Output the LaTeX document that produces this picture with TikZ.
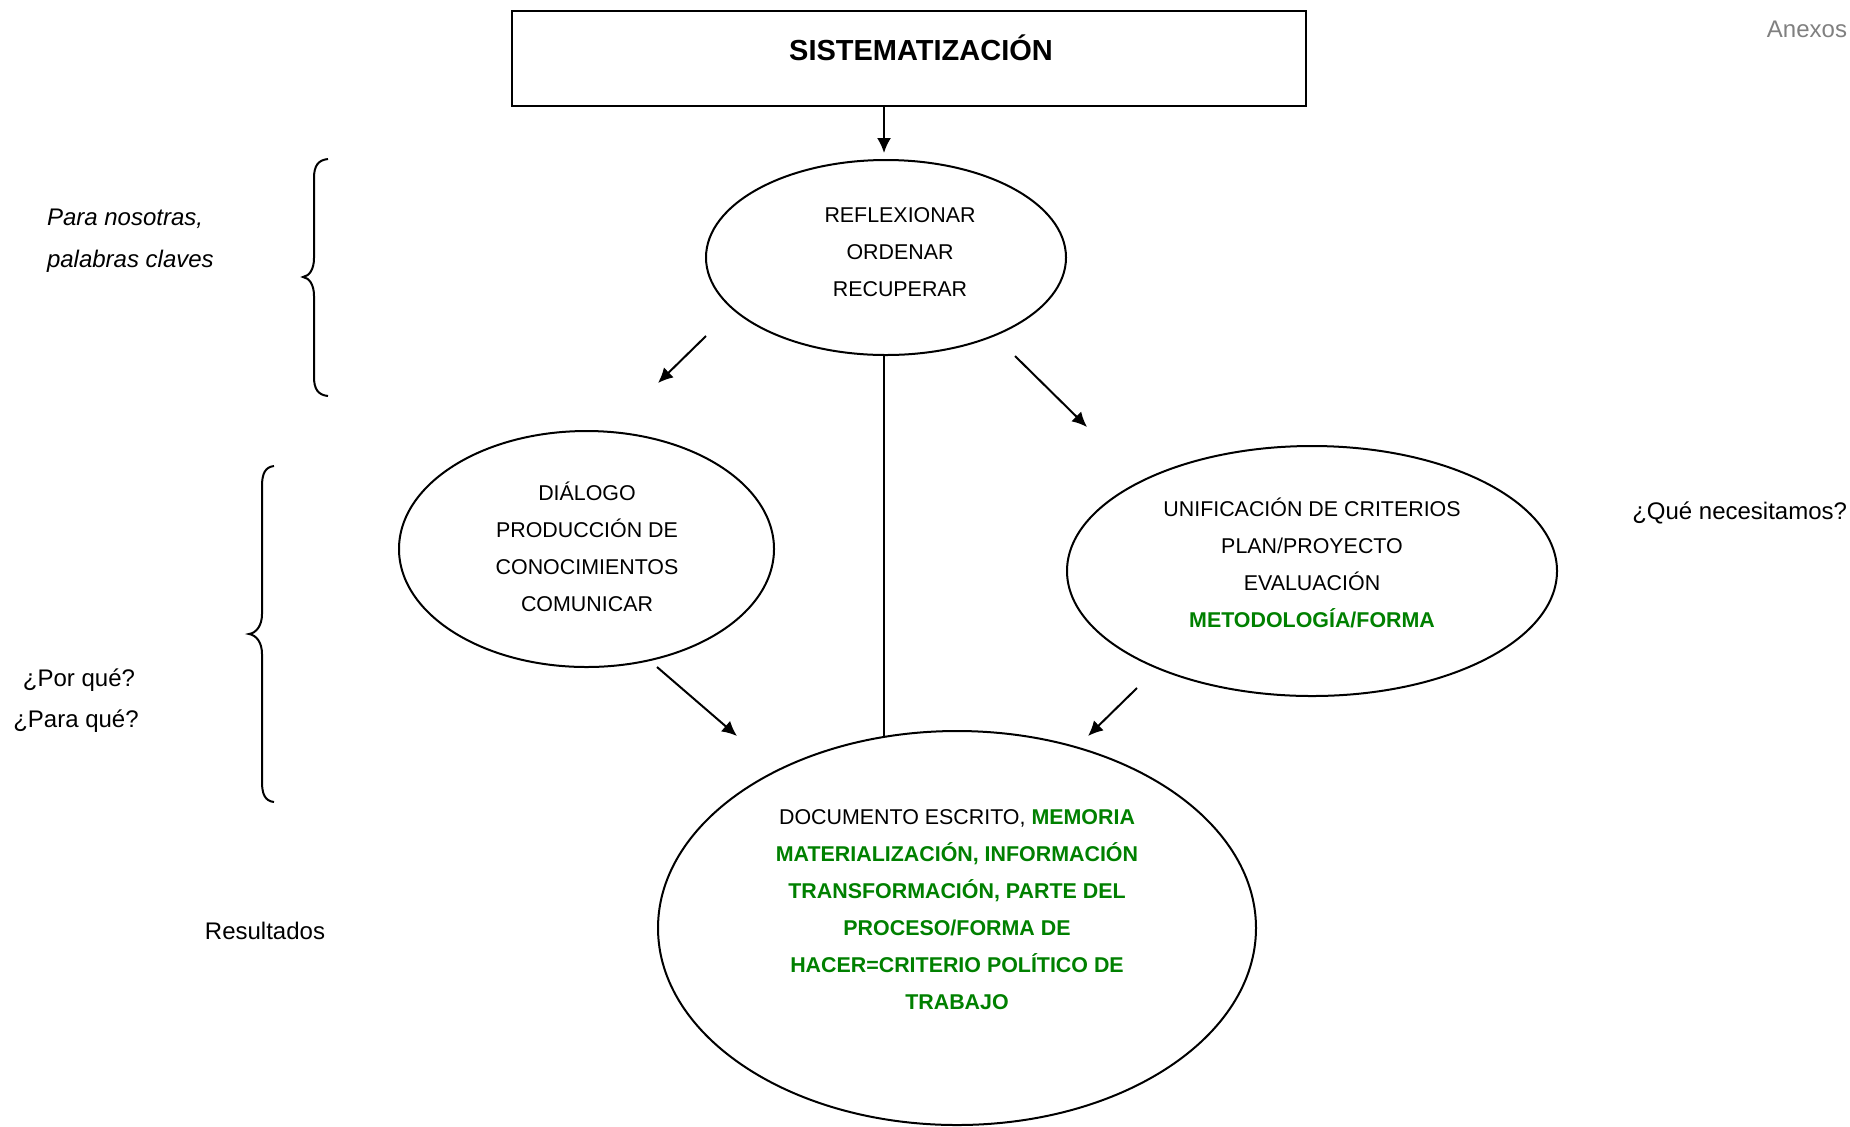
\documentclass[tikz,border=0pt]{standalone}
\usepackage{fontspec}
\setmainfont{Liberation Sans}
\usetikzlibrary{shapes.geometric,arrows.meta}
\definecolor{dgreen}{RGB}{0,128,0}
\definecolor{lgray}{RGB}{128,128,128}
\begin{document}
\begin{tikzpicture}[x=0.5pt,y=-0.5pt,
  line width=1pt,
  every node/.style={inner sep=0pt,outer sep=0pt},
  oval/.style={draw,ellipse,line width=1pt},
  intext/.style={font=\fontsize{10.7pt}{18.5pt}\selectfont,align=center},
  side/.style={font=\fontsize{12pt}{14pt}\selectfont},
  arr/.style={-{Latex[length=7.5pt,width=7pt]}},
  grn/.style={font=\bfseries}
]
\useasboundingbox (0,0) rectangle (1850,1126);

% top box
\node[draw,line width=1pt,minimum width=794*0.5pt,minimum height=95*0.5pt] (box) at (909,58.5) {};
\node[font=\fontsize{14.5pt}{16pt}\selectfont\bfseries] (title) at (921,48) {SISTEMATIZACIÓN};

% ellipses
\node[oval,minimum width=360*0.5pt,minimum height=195*0.5pt] (e1) at (886,257.5) {};
\node[intext] (t1) at (900,252.5) {REFLEXIONAR\\ORDENAR\\RECUPERAR};

\node[oval,minimum width=375*0.5pt,minimum height=236*0.5pt] (e2) at (586.5,549) {};
\node[intext] (t2) at (587,547) {DIÁLOGO\\PRODUCCIÓN DE\\CONOCIMIENTOS\\COMUNICAR};

\node[oval,minimum width=490*0.5pt,minimum height=250*0.5pt] (e3) at (1312,571) {};
\node[intext] (t3) at (1312,562.5) {UNIFICACIÓN DE CRITERIOS\\PLAN/PROYECTO\\EVALUACIÓN\\\textcolor{dgreen}{\bfseries METODOLOGÍA/FORMA}};

\node[oval,minimum width=598*0.5pt,minimum height=394*0.5pt] (e4) at (957,928) {};
\node[intext] (t4) at (957,909.5) {DOCUMENTO ESCRITO, \textcolor{dgreen}{\bfseries MEMORIA}\\
\color{dgreen}\bfseries MATERIALIZACIÓN, INFORMACIÓN\\
\color{dgreen}\bfseries TRANSFORMACIÓN, PARTE DEL\\
\color{dgreen}\bfseries PROCESO/FORMA DE\\
\color{dgreen}\bfseries HACER=CRITERIO POLÍTICO DE\\
\color{dgreen}\bfseries TRABAJO};

% side labels
\node[side,text=lgray,anchor=east] (anexos) at (1847,29) {Anexos};
\node[side,anchor=west,font=\fontsize{12pt}{14pt}\selectfont\itshape] (pn) at (47,219) {Para nosotras,};
\node[side,anchor=west,font=\fontsize{12pt}{14pt}\selectfont\itshape] (pc) at (47,261) {palabras claves};
\node[side,anchor=east] (que) at (1847,513) {¿Qué necesitamos?};
\node[side] (porq) at (79,680) {¿Por qué?};
\node[side] (paraq) at (76,721) {¿Para qué?};
\node[side] (res) at (265,931) {Resultados};

% connector end points
\coordinate (a0) at (884,153);
\coordinate (a1s) at (706,336);
\coordinate (a1e) at (658,383);
\coordinate (a2s) at (1015,356);
\coordinate (a2e) at (1087,427);
\coordinate (a3s) at (657,667);
\coordinate (a3e) at (737,736);
\coordinate (a4s) at (1137,688);
\coordinate (a4e) at (1088,736);
\coordinate (v0) at (884,355);
\coordinate (v1) at (884,737);

\draw[arr] (box.south -| a0) -- (a0);
\draw[arr] (a1s) -- (a1e);
\draw[arr] (a2s) -- (a2e);
\draw[arr] (a3s) -- (a3e);
\draw[arr] (a4s) -- (a4e);
\draw (v0) -- (v1);

% braces
\draw (328,159) .. controls (318,160) and (314,166) .. (314,178)
  -- (314,258) .. controls (314,270) and (309,276) .. (303,277)
  .. controls (309,278) and (314,284) .. (314,296)
  -- (314,377) .. controls (314,389) and (318,395) .. (328,396);
\draw (274,466) .. controls (265,467) and (262,474) .. (262,486)
  -- (262,614) .. controls (262,626) and (256,633) .. (249,634)
  .. controls (256,635) and (262,642) .. (262,654)
  -- (262,782) .. controls (262,794) and (265,801) .. (274,802);
\end{tikzpicture}
\end{document}
